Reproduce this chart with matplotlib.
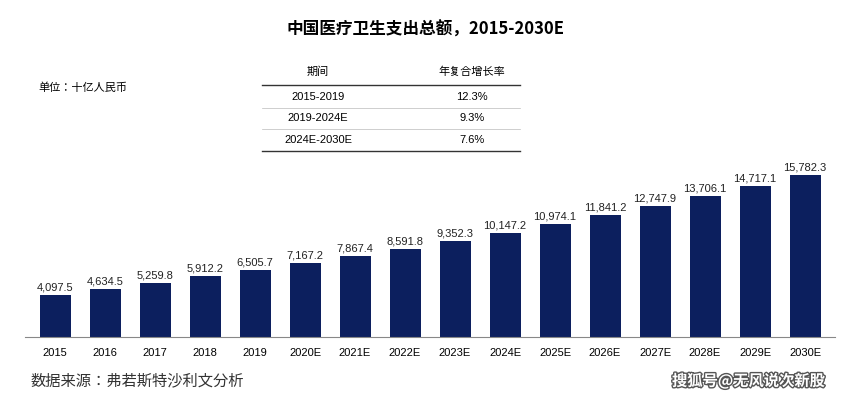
import matplotlib
matplotlib.use("Agg")
import matplotlib.pyplot as plt
import matplotlib.patheffects as pe
from matplotlib import font_manager as fm
from matplotlib.lines import Line2D

cjk = [f for f in fm.fontManager.ttflist if "CJK" in f.name]
names = sorted(set(f.name for f in cjk))
pick = next((n for n in names if n.endswith("SC")), names[0] if names else "DejaVu Sans")
plt.rcParams["font.family"] = "sans-serif"
plt.rcParams["font.sans-serif"] = ["Liberation Sans", "DejaVu Sans"]
CJ = pick

years = ["2015","2016","2017","2018","2019","2020E","2021E","2022E","2023E","2024E",
         "2025E","2026E","2027E","2028E","2029E","2030E"]
values = [4097.5,4634.5,5259.8,5912.2,6505.7,7167.2,7867.4,8591.8,9352.3,10147.2,
          10974.1,11841.2,12747.9,13706.1,14717.1,15782.3]
periods = ["2015-2019","2019-2024E","2024E-2030E"]
cagr = ["12.3%","9.3%","7.6%"]

W, H = 852, 400
fig = plt.figure(figsize=(W/100, H/100), dpi=100)
ax = fig.add_axes([25/W, 1-337/H, 810/W, 169.4/H])
x = range(len(years))
ax.bar(x, values, width=0.62, color="#0c1f5e")
for i, v in zip(x, values):
    ax.text(i, v + 250, f"{v:,.1f}", ha="center", va="bottom", fontsize=8, color="#222")
ax.set_xlim(-0.6, len(years)-0.4)
ax.set_ylim(0, 16500)
ax.set_xticks(list(x))
ax.set_xticklabels(years, fontsize=8)
ax.tick_params(axis="x", length=0, pad=8)
ax.set_yticks([])
for s in ["left","right","top"]:
    ax.spines[s].set_visible(False)
ax.spines["bottom"].set_color("#888")

fig.text(425/W, 1-30/H, "中国医疗卫生支出总额，2015-2030E", ha="center", va="center",
         fontsize=12, fontweight="bold", fontfamily=CJ)
fig.text(38/W, 1-88/H, "单位：十亿人民币", ha="left", va="center", fontsize=8, fontfamily=CJ)

fig.text(318/W, 1-72/H, "期间", ha="center", va="center", fontsize=8, fontfamily=CJ)
fig.text(472/W, 1-72/H, "年复合增长率", ha="center", va="center", fontsize=8, fontfamily=CJ)
ys = [97, 118, 140]
for p, c, y in zip(periods, cagr, ys):
    fig.text(318/W, 1-y/H, p, ha="center", va="center", fontsize=8)
    fig.text(472/W, 1-y/H, c, ha="center", va="center", fontsize=8)
for y, lw, col in [(85, 1.0, "#333"), (108, 0.5, "#bbb"), (129, 0.5, "#bbb"), (151, 1.0, "#333")]:
    fig.add_artist(Line2D([262/W, 520/W], [1-y/H, 1-y/H], color=col, lw=lw))

fig.text(30/W, 1-381/H, "数据来源：弗若斯特沙利文分析", ha="left", va="center", fontsize=11,
         color="#333", fontfamily=CJ)
fig.text(672/W, 1-381/H, "搜狐号@无风说次新股", ha="left", va="center", fontsize=11,
         color="white", fontweight="bold", fontfamily=CJ,
         path_effects=[pe.withStroke(linewidth=2, foreground="#555")])
fig.savefig("out.png", dpi=100, facecolor="white")
